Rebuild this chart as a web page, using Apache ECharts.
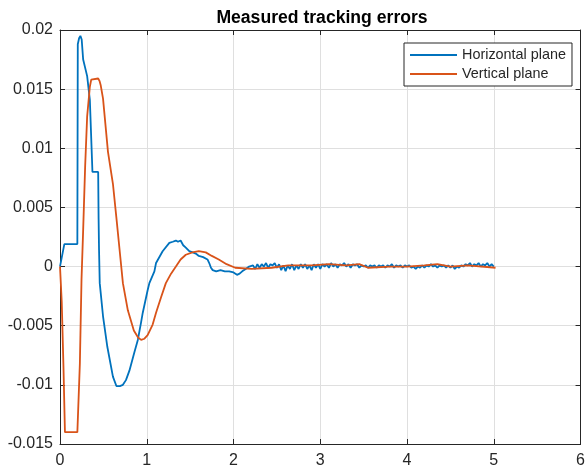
<!DOCTYPE html>
<html>
<head>
<meta charset="utf-8">
<title>Measured tracking errors</title>
<script src="https://cdn.jsdelivr.net/npm/echarts@6/dist/echarts.min.js"></script>
<style>
  html, body { margin: 0; padding: 0; background: #fff; }
  #chart { width: 588px; height: 475px; }
</style>
</head>
<body>
<div id="chart"></div>
<script>
const xTicks = [0, 1, 2, 3, 4, 5, 6]
const yTicks = [-0.015, -0.01, -0.005, 0, 0.005, 0.01, 0.015, 0.02]
const seriesNames = ['Horizontal plane', 'Vertical plane']

// Horizontal plane (blue)
const hTime = [
  0, 0.01, 0.05, 0.2, 0.205, 0.22, 0.235, 0.25, 0.267, 0.313, 0.344, 0.374,
  0.44, 0.445, 0.45, 0.458, 0.496, 0.546, 0.61, 0.65, 0.69, 0.725, 0.76, 0.8,
  0.859, 0.897, 0.935, 0.954, 1.01, 1.03, 1.088, 1.107, 1.183, 1.26, 1.3, 1.336,
  1.36, 1.39, 1.42, 1.45, 1.49, 1.53, 1.565, 1.6, 1.65, 1.7, 1.72, 1.74,
  1.76, 1.78, 1.8, 1.85, 1.9, 1.95, 2.0, 2.04, 2.07, 2.1, 2.14, 2.18, 2.2,
  2.225, 2.25, 2.275, 2.3, 2.325, 2.35, 2.375, 2.4, 2.425, 2.45, 2.475, 2.5,
  2.525, 2.55, 2.575, 2.6, 2.625, 2.65, 2.675, 2.7, 2.725, 2.75, 2.775, 2.8,
  2.825, 2.85, 2.875, 2.9, 2.925, 2.95, 2.975, 3.0, 3.025, 3.05, 3.075, 3.1,
  3.125, 3.15, 3.175, 3.2, 3.225, 3.25, 3.275, 3.3, 3.325, 3.35, 3.375, 3.4,
  3.425, 3.45, 3.475, 3.5, 3.525, 3.55, 3.575, 3.6, 3.625, 3.65, 3.675, 3.7,
  3.725, 3.75, 3.775, 3.8, 3.825, 3.85, 3.875, 3.9, 3.925, 3.95, 3.975, 4.0,
  4.025, 4.05, 4.075, 4.1, 4.125, 4.15, 4.175, 4.2, 4.225, 4.25, 4.275, 4.3,
  4.325, 4.35, 4.375, 4.4, 4.425, 4.45, 4.475, 4.5, 4.525, 4.55, 4.575, 4.6,
  4.625, 4.65, 4.675, 4.7, 4.725, 4.75, 4.775, 4.8, 4.825, 4.85, 4.875, 4.9,
  4.925, 4.95, 4.975, 5.0
]
const hError = [
  0, 0, 0.0019, 0.0019, 0.0188, 0.0193, 0.0195, 0.0192, 0.0175, 0.0161, 0.0141, 0.008,
  0.008, 0.004, 0.0014, -0.0014, -0.0042, -0.0068, -0.0093, -0.0101, -0.0101, -0.01, -0.0096, -0.0088,
  -0.0072, -0.0062, -0.0047, -0.0039, -0.002, -0.0014, -0.0004, 0.0003, 0.0013, 0.002, 0.0021, 0.0022,
  0.0021, 0.0022, 0.0018, 0.0016, 0.0013, 0.0012, 0.0011, 0.0009, 0.0008, 0.0006, 0.0003, -0.0001,
  -0.0003, -0.0002, -0.0004, -0.0003, -0.0004, -0.0004, -0.0005, -0.0007, -0.0006, -0.0004, -0.0002, 0, -0.0001,
  0.0001, -0.0002, 0.0002, -0.0001, 0.0002, 0, 0.0003, -0.0001, 0.0002, 0.0001, 0.0003, -0.0001,
  0.0002, -0.0003, 0.0001, -0.0004, 0.0001, -0.0002, 0.0002, -0.0003, 0.0001, -0.0002, 0.0002, -0.0001,
  0.0002, -0.0002, 0.0001, -0.0003, 0.0002, -0.0001, 0.0002, -0.0002, 0.0002, 0, 0.0002, -0.0001,
  0.0003, 0, 0.0002, -0.0001, 0.0002, 0.0001, 0.0003, 0, 0.0002, -0.0001, 0.0002, 0.0001,
  0.0002, -0.0001, 0.0001, 0, 0.0001, -0.0001, 0.0001, 0, 0.0001, -0.0001, 0.0001, 0,
  0.0001, -0.0001, 0.0001, 0, 0.0002, -0.0001, 0.0001, 0, 0.0001, -0.0001, 0.0001, 0,
  0.0001, -0.0001, 0, -0.0002, 0, -0.0001, 0.0001, -0.0001, 0.0001, 0, 0.0002, 0,
  0.0001, -0.0001, 0.0001, 0, 0.0001, -0.0001, 0.0001, -0.0001, 0.0001, -0.0002, 0, -0.0001,
  0.0001, 0, 0.0002, 0.0001, 0.0003, 0, 0.0002, 0.0001, 0.0003, 0, 0.0002, 0.0001,
  0.0003, 0, 0.0002, 0
]

// Vertical plane (orange)
const vTime = [
  0, 0.02, 0.04, 0.057, 0.2, 0.21, 0.229, 0.248, 0.267, 0.29, 0.313, 0.344,
  0.36, 0.38, 0.44, 0.455, 0.47, 0.496, 0.553, 0.61, 0.649, 0.687, 0.725, 0.782,
  0.851, 0.9, 0.935, 0.973, 1.01, 1.068, 1.107, 1.165, 1.22, 1.28, 1.336, 1.39,
  1.45, 1.526, 1.6, 1.68, 1.75, 1.83, 1.92, 2.02, 2.21, 2.44, 2.63, 2.9,
  3.1, 3.3, 3.45, 3.55, 3.8, 4.0, 4.2, 4.35, 4.5, 4.7, 5.02
]
const vError = [
  0, -0.003, -0.0085, -0.014, -0.014, -0.014, -0.0082, -0.0011, 0.0031, 0.0085, 0.0127, 0.0152,
  0.0158, 0.0159, 0.0159, 0.0157, 0.0153, 0.0142, 0.0097, 0.007, 0.0042, 0.0014, -0.0014, -0.0037,
  -0.0054, -0.006, -0.0062, -0.0061, -0.0058, -0.0049, -0.0039, -0.0026, -0.0014, -0.0006, 0, 0.0006,
  0.001, 0.0012, 0.0013, 0.0012, 0.0009, 0.0006, 0.0002, -0.0001, -0.0002, -0.0001, 0.0001, 0.0001,
  0.0002, 0.0001, 0.0002, -0.0001, 0, 0, 0.0001, 0.0002, 0, 0.0001, -0.0001
]

const FONT = '"Liberation Sans", Arial, Helvetica, sans-serif'
const AXIS_COLOR = '#262626'

const fmt = v => String(+v.toFixed(3))

const chart = echarts.init(document.getElementById('chart'))

const boxAxis = (extra) => Object.assign({
  type: 'value',
  axisLine: { show: true, onZero: false, lineStyle: { color: AXIS_COLOR, width: 1 } },
  axisTick: { show: true, inside: true, length: 5, lineStyle: { color: AXIS_COLOR } },
  axisLabel: { show: false },
  splitLine: { show: false }
}, extra)

chart.setOption({
  backgroundColor: '#fff',
  animation: false,
  title: {
    text: 'Measured tracking errors',
    left: 322,
    textAlign: 'center',
    top: 9,
    padding: 0,
    textStyle: { fontFamily: FONT, fontSize: 17.6, fontWeight: 'bold', color: '#000' }
  },
  legend: {
    data: seriesNames,
    orient: 'vertical',
    left: 404,
    top: 43,
    padding: [5, 6, 5, 6],
    icon: 'rect',
    itemWidth: 47,
    itemHeight: 2,
    itemGap: 5,
    backgroundColor: '#fff',
    borderColor: AXIS_COLOR,
    borderWidth: 1,
    borderRadius: 0,
    textStyle: { fontFamily: FONT, fontSize: 14.4, color: AXIS_COLOR, lineHeight: 14 }
  },
  grid: { left: 60, right: 4, top: 30, bottom: 31, containLabel: false },
  xAxis: [
    boxAxis({
      position: 'bottom',
      min: xTicks[0],
      max: xTicks[xTicks.length - 1],
      interval: 1,
      axisLabel: { show: true, margin: 9, fontFamily: FONT, fontSize: 16, color: AXIS_COLOR, formatter: fmt },
      splitLine: { show: true, lineStyle: { color: '#dfdfdf', width: 1 } }
    }),
    boxAxis({ position: 'top', min: xTicks[0], max: xTicks[xTicks.length - 1], interval: 1 })
  ],
  yAxis: [
    boxAxis({
      position: 'left',
      min: yTicks[0],
      max: yTicks[yTicks.length - 1],
      interval: 0.005,
      axisLabel: { show: true, margin: 7, fontFamily: FONT, fontSize: 16, color: AXIS_COLOR, formatter: fmt },
      splitLine: { show: true, lineStyle: { color: '#dfdfdf', width: 1 } }
    }),
    boxAxis({ position: 'right', min: yTicks[0], max: yTicks[yTicks.length - 1], interval: 0.005 })
  ],
  series: [
    {
      name: seriesNames[0],
      type: 'line',
      xAxisIndex: 0,
      yAxisIndex: 0,
      symbol: 'none',
      lineStyle: { width: 1.8, color: '#0072BD' },
      itemStyle: { color: '#0072BD' },
      data: hTime.map((t, i) => [t, hError[i]])
    },
    {
      name: seriesNames[1],
      type: 'line',
      xAxisIndex: 0,
      yAxisIndex: 0,
      symbol: 'none',
      lineStyle: { width: 1.8, color: '#D95319' },
      itemStyle: { color: '#D95319' },
      data: vTime.map((t, i) => [t, vError[i]])
    }
  ]
})
</script>
</body>
</html>
